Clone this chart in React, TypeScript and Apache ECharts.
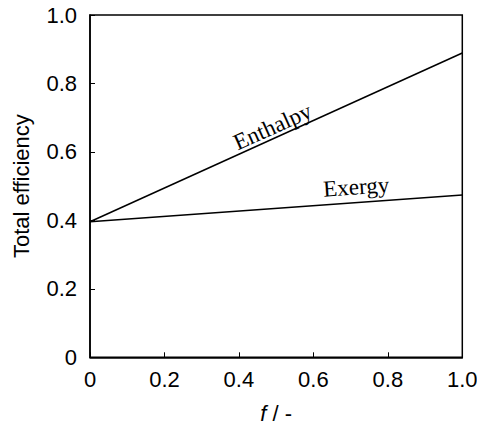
import React, { useEffect, useRef } from "react";
import * as echarts from "echarts";

const xValues = [0, 1.0];
const enthalpy = [0.396, 0.889];
const exergy = [0.396, 0.474];
const tickLabelsX = ["0", "0.2", "0.4", "0.6", "0.8", "1.0"];
const tickLabelsY = ["0", "0.2", "0.4", "0.6", "0.8", "1.0"];
const seriesNames = ["Enthalpy", "Exergy"];
// label anchors in data coordinates [x, y]
const labelAnchors = [
  [0.49, 0.675],
  [0.715, 0.499],
];
const labelAngles = [24, 4];

export default function App() {
  const ref = useRef<HTMLDivElement>(null);
  useEffect(() => {
    if (!ref.current) return;
    const chart = echarts.init(ref.current, undefined, { renderer: "svg" });
    const fmt = (labels: string[]) => (v: number) => labels[Math.round(v / 0.2)] ?? "";
    const axisCommon = {
      min: 0,
      max: 1,
      interval: 0.2,
      axisLine: { show: true, lineStyle: { color: "#000", width: 1.5 } },
      axisTick: { show: true, inside: true, length: 5, lineStyle: { color: "#000", width: 1 } },
      splitLine: { show: false },
    };
    chart.setOption({
      animation: false,
      grid: {
        left: 90,
        top: 15,
        right: 14.7,
        bottom: 68.7,
        containLabel: false,
        outerBoundsMode: "none",
        show: true,
        borderColor: "#000",
        borderWidth: 1.5,
        backgroundColor: "transparent",
      },
      xAxis: {
        type: "value",
        ...axisCommon,
        axisLabel: {
          formatter: fmt(tickLabelsX),
          color: "#000",
          fontSize: 22,
          fontFamily: "Liberation Sans",
          margin: 11,
        },
        name: "{i|f} / -",
        nameLocation: "middle",
        nameGap: 45,
        nameTextStyle: {
          color: "#000",
          fontSize: 22,
          fontFamily: "Liberation Sans",
          rich: { i: { fontStyle: "italic", fontSize: 22, fontFamily: "Liberation Sans", color: "#000" } },
        },
      },
      yAxis: {
        type: "value",
        ...axisCommon,
        axisLabel: {
          formatter: fmt(tickLabelsY),
          color: "#000",
          fontSize: 22,
          fontFamily: "Liberation Sans",
          margin: 13,
        },
        name: "Total efficiency",
        nameLocation: "middle",
        nameGap: 58,
        nameRotate: 90,
        nameTextStyle: { color: "#000", fontSize: 22, fontFamily: "Liberation Sans" },
      },
      series: [
        {
          name: seriesNames[0],
          type: "line",
          data: xValues.map((x, i) => [x, enthalpy[i]]),
          symbol: "none",
          lineStyle: { color: "#000", width: 1.5 },
        },
        {
          name: seriesNames[1],
          type: "line",
          data: xValues.map((x, i) => [x, exergy[i]]),
          symbol: "none",
          lineStyle: { color: "#000", width: 1.5 },
        },
      ],
    });
    const texts = seriesNames.map((name, i) => {
      const p = chart.convertToPixel({ gridIndex: 0 }, labelAnchors[i]) as number[];
      return {
        type: "text",
        x: p[0],
        y: p[1],
        rotation: (labelAngles[i] * Math.PI) / 180,
        style: {
          text: name,
          fill: "#000",
          font: "23px 'Liberation Serif'",
          align: "center",
          verticalAlign: "middle",
        },
      };
    });
    chart.setOption({ graphic: texts });
    return () => chart.dispose();
  }, []);
  return (
    <div
      ref={ref}
      style={{ position: "fixed", left: 0, top: 0, width: 477, height: 426, background: "#fff" }}
    />
  );
}
